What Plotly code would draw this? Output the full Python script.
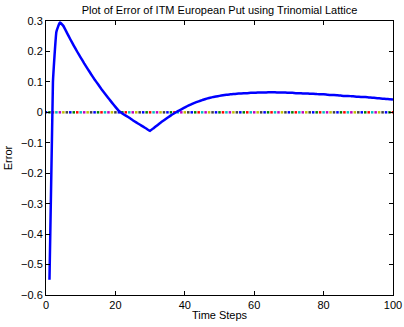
import plotly.graph_objects as go

steps = list(range(1, 101))
error = [
    -0.550, 0.100, 0.265, 0.295, 0.284, 0.262, 0.240, 0.219, 0.199, 0.180,
    0.161, 0.143, 0.125, 0.108, 0.092, 0.076, 0.061, 0.046, 0.032, 0.018,
    0.005, -0.004, -0.011, -0.018, -0.026, -0.033, -0.040, -0.047, -0.054, -0.061,
    -0.052, -0.043, -0.034, -0.026, -0.018, -0.010, -0.003, 0.004, 0.010, 0.016,
    0.022, 0.027, 0.032, 0.036, 0.040, 0.044, 0.047, 0.050, 0.052, 0.054,
    0.056, 0.058, 0.059, 0.060, 0.061, 0.062, 0.063, 0.063, 0.064, 0.064,
    0.065, 0.065, 0.065, 0.066, 0.066, 0.066, 0.065, 0.065, 0.065, 0.064,
    0.064, 0.063, 0.063, 0.062, 0.062, 0.061, 0.061, 0.060, 0.059, 0.059,
    0.058, 0.057, 0.057, 0.056, 0.055, 0.054, 0.054, 0.053, 0.052, 0.051,
    0.050, 0.050, 0.049, 0.048, 0.047, 0.046, 0.045, 0.044, 0.043, 0.042,
]
zero_steps = list(range(0, 101))
zero_vals = [0.0] * len(zero_steps)
dot_cycle = ["#0000ff", "#008000", "#ff0000", "#00bfbf", "#bf00bf", "#bfbf00", "#404040"]
dot_colors = [dot_cycle[i % len(dot_cycle)] for i in range(len(zero_steps))]

x_ticks = [0, 20, 40, 60, 80, 100]
y_ticks = [0.3, 0.2, 0.1, 0, -0.1, -0.2, -0.3, -0.4, -0.5, -0.6]

FONT = "Liberation Sans, Arial, sans-serif"

fig = go.Figure()
fig.add_trace(go.Scatter(
    x=zero_steps, y=zero_vals, mode="markers",
    marker=dict(symbol="square", size=2.5, color=dot_colors, line=dict(width=0)),
    showlegend=False, hoverinfo="skip",
))
fig.add_trace(go.Scatter(
    x=steps, y=error, mode="lines",
    line=dict(color="#0000ff", width=2.5, shape="spline", smoothing=0.3),
    showlegend=False,
))

axis_common = dict(
    showgrid=False, zeroline=False, showline=True, linecolor="black", linewidth=1,
    mirror="ticks", ticks="inside", ticklen=4, tickcolor="black", tickwidth=1,
    automargin=False,
    tickfont=dict(family=FONT, size=11, color="black"),
)
fig.update_layout(
    width=404, height=327,
    margin=dict(l=46, r=11, t=21, b=32),
    paper_bgcolor="white", plot_bgcolor="white",
    title=dict(text="Plot of Error of ITM European Put using Trinomial Lattice",
               x=0.5, xref="paper", y=0.969, yref="container", yanchor="middle",
               font=dict(family=FONT, size=11, color="black")),
    xaxis=dict(range=[0, 100], tickvals=x_ticks,
               title=dict(text="Time Steps", standoff=1,
                          font=dict(family=FONT, size=11, color="black")),
               **axis_common),
    yaxis=dict(range=[-0.6, 0.3], tickvals=y_ticks,
               title=dict(text="Error", standoff=6,
                          font=dict(family=FONT, size=11, color="black")),
               **axis_common),
)

fig.write_html("out.html")
